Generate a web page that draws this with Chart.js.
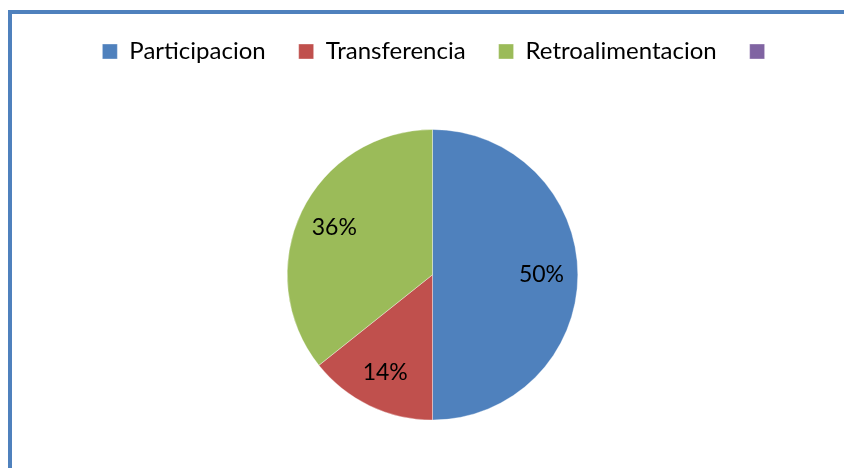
<!DOCTYPE html>
<html>
<head>
<meta charset="utf-8">
<script src="https://cdn.jsdelivr.net/npm/chart.js@4.4.0/dist/chart.umd.min.js"></script>
<style>
  html, body { margin: 0; padding: 0; background: #ffffff; overflow: hidden; width: 844px; height: 468px; }
  #frame { position: absolute; left: 8px; top: 10px; width: 2000px; height: 2000px;
           border-top: 4px solid #4F81BD; border-left: 4px solid #4F81BD; box-sizing: border-box; }
  #c { position: absolute; left: 0; top: 0; }
</style>
</head>
<body>
<div id="frame"></div>
<canvas id="c" width="844" height="468"></canvas>
<script>
const categories = ['Participacion', 'Transferencia', 'Retroalimentacion', ''];
const values = [7, 2, 5, 0];
const colors = ['#4F81BD', '#C0504D', '#9BBB59', '#8064A2'];

const FONT = 'Lato, "Liberation Sans", sans-serif';

const legendExtra = {
  id: 'legendExtra',
  beforeInit(chart) {
    const lg = chart.legend;
    const origFit = lg.fit;
    lg.fit = function () {
      origFit.call(lg);
      this.height += 8;
    };
    const origDraw = lg.draw;
    lg.draw = function () {
      const ctx = chart.ctx;
      ctx.save();
      ctx.translate(7, 0);
      origDraw.call(lg);
      ctx.restore();
    };
  }
};

const pctLabels = {
  id: 'pctLabels',
  afterDatasetsDraw(chart) {
    const ctx = chart.ctx;
    const meta = chart.getDatasetMeta(0);
    const data = chart.data.datasets[0].data;
    const total = data.reduce((a, b) => a + b, 0);
    ctx.save();
    ctx.font = '23px ' + FONT;
    ctx.fillStyle = '#000000';
    ctx.textAlign = 'center';
    ctx.textBaseline = 'middle';
    meta.data.forEach((arc, i) => {
      if (!data[i]) return;
      const p = arc.getProps(['x', 'y', 'startAngle', 'endAngle', 'outerRadius']);
      const mid = (p.startAngle + p.endAngle) / 2;
      const r = p.outerRadius * 0.75;
      const txt = Math.round(data[i] / total * 100) + '%';
      ctx.fillText(txt, p.x + Math.cos(mid) * r, p.y + Math.sin(mid) * r);
    });
    ctx.restore();
  }
};

new Chart(document.getElementById('c'), {
  type: 'pie',
  data: {
    labels: categories,
    datasets: [{
      data: values,
      backgroundColor: colors,
      borderColor: 'rgba(255,255,255,0.7)',
      borderWidth: 0.5,
      radius: 145.3
    }]
  },
  options: {
    responsive: false,
    animation: false,
    layout: { padding: { top: 6.5, left: 21, right: 0, bottom: 0 } },
    plugins: {
      legend: {
        position: 'top',
        labels: {
          boxWidth: 15,
          boxHeight: 15,
          padding: 33,
          color: '#000000',
          font: { family: FONT, size: 24 }
        }
      },
      tooltip: { enabled: false }
    }
  },
  plugins: [legendExtra, pctLabels]
});
</script>
</body>
</html>
